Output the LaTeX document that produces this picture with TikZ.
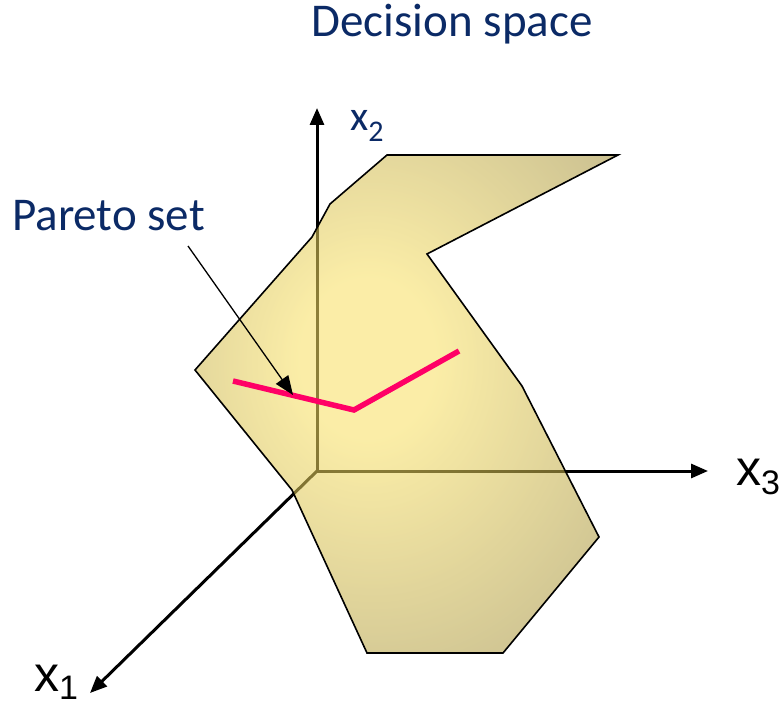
\documentclass[tikz,border=0pt]{standalone}
\usepackage{fontspec}
\setmainfont{Carlito}
\newfontfamily\arialfont{Liberation Sans}
\usetikzlibrary{arrows.meta}
\definecolor{navy}{HTML}{0B2A66}
\definecolor{paretopink}{HTML}{FF0066}
\definecolor{pin}{HTML}{F8E064}
\definecolor{pout}{HTML}{766628}
\pgfdeclareradialshading{polyshade}{\pgfpoint{-5bp}{5bp}}{color(0bp)=(pin); color(8bp)=(pin); color(50bp)=(pout); color(100bp)=(pout)}
\begin{document}
\begin{tikzpicture}[x=1pt,y=-1pt,
  axis/.style={line width=3pt, -{Triangle[length=17pt,width=14pt]}},
  poly/.style={shading=polyshade, fill opacity=0.57, draw=black, line width=1.6pt, line join=miter},
  pareto/.style={paretopink, line width=5.5pt},
  pointer/.style={line width=1.3pt, -{Triangle[length=19pt,width=15pt]}},
  navytext/.style={text=navy, inner sep=0pt},
  axislabel/.style={inner sep=0pt, font=\arialfont\fontsize{50}{60}\selectfont}]
\useasboundingbox (0,0) rectangle (781,706);
% axes
\coordinate (O) at (317,471);
\coordinate (X2) at (317,108);
\coordinate (X3) at (708,471);
\coordinate (X1) at (90,693);
\draw[axis] (O) -- (X2);
\draw[axis] (O) -- (X3);
\draw[axis] (O) -- (X1);
% region
\shadedraw[poly] (387,155) -- (618,155) -- (427,254) -- (522,386) -- (599,537) -- (503,653) -- (367,653) -- (292,490) -- (195,370) -- (312,237) -- (330,204) -- cycle;
% pareto set
\coordinate (P1) at (233,381);
\coordinate (P2) at (354,410);
\coordinate (P3) at (459,351);
\draw[pareto] (P1) -- (P2) -- (P3);
% labels
\node[navytext, anchor=base, font=\fontsize{47}{56}\selectfont] (title) at (452,37) {Decision space};
\node[navytext, anchor=base west, font=\fontsize{47}{56}\selectfont] (ps) at (12,230) {Pareto set};
\coordinate (psA) at (188,246);
\coordinate (psB) at (293,395);
\draw[pointer] (psA) -- (psB);
\node[navytext, anchor=base west, font=\fontsize{42}{48}\selectfont] (lx2) at (350,130) {x\raisebox{-12pt}{\fontsize{30}{34}\selectfont 2}};
\node[axislabel, anchor=base west] (lx3) at (736,485) {x\raisebox{-9pt}{\fontsize{34}{40}\selectfont 3}};
\node[axislabel, anchor=base west] (lx1) at (34,691) {x\raisebox{-8pt}{\fontsize{34}{40}\selectfont 1}};
\end{tikzpicture}
\end{document}
